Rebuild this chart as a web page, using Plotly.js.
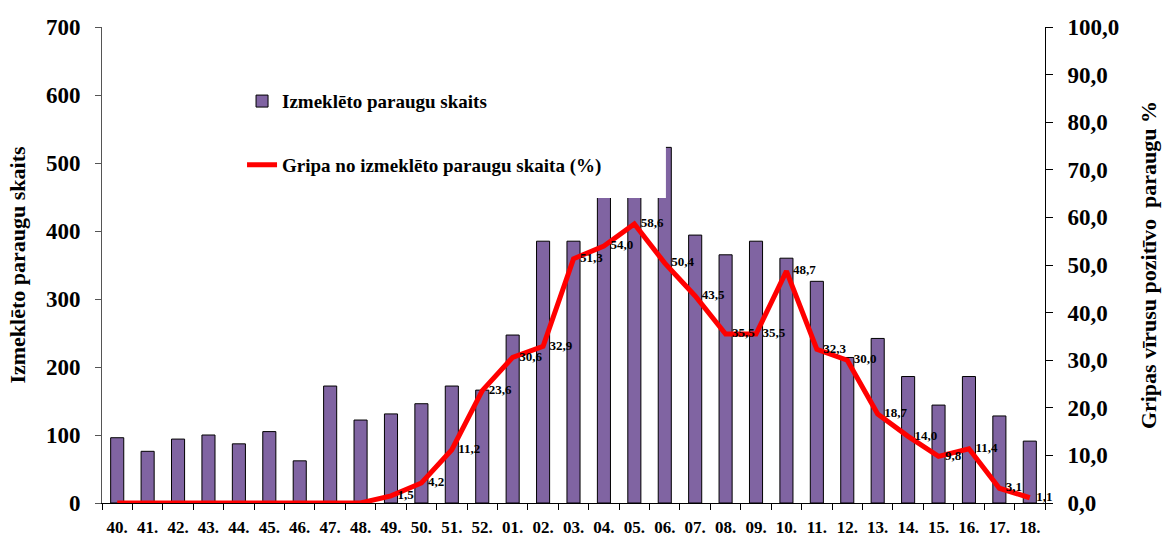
<!DOCTYPE html>
<html>
<head>
<meta charset="utf-8">
<script src="https://cdn.plot.ly/plotly-3.0.1.min.js"></script>
<style>html,body{margin:0;padding:0;background:#fff;}#chart{width:1164px;height:538px;}</style>
</head>
<body>
<div id="chart"></div>
<script>
const weeks = ['40.','41.','42.','43.','44.','45.','46.','47.','48.','49.','50.','51.','52.','01.','02.','03.','04.','05.','06.','07.','08.','09.','10.','11.','12.','13.','14.','15.','16.','17.','18.'];
const samples = [96,76,94,100,87,105,62,172,122,131,146,172,166,247,385,385,500,510,523,394,365,385,360,326,214,242,186,144,186,128,91];
const positivePct = [0,0,0,0,0,0,0,0,0,1.5,4.2,11.2,23.6,30.6,32.9,51.3,54.0,58.6,50.4,43.5,35.5,35.5,48.7,32.3,30.0,18.7,14.0,9.8,11.4,3.1,1.1];
const leftTicks = [0,100,200,300,400,500,600,700];
const rightTicks = [0,10,20,30,40,50,60,70,80,90,100];

const serif = 'Liberation Serif, Times New Roman, serif';
const pctLabels = positivePct.map(v => v > 0 ? '\u00a0\u00a0' + v.toFixed(1).replace('.', ',') : '');

const traces = [
  {
    type: 'bar', x: weeks, y: samples, name: 'Izmeklēto paraugu skaits',
    marker: {color: '#8064A2', line: {color: '#000', width: 1}},
    hoverinfo: 'skip', legendgroup: 'a'
  },
  {
    type: 'scatter', mode: 'lines+text', x: weeks, y: positivePct, yaxis: 'y2',
    name: 'Gripa no izmeklēto paraugu skaita (%)',
    line: {color: '#FF0000', width: 5},
    text: pctLabels, textposition: 'middle right',
    textfont: {family: serif, size: 13, color: '#000', weight: 'bold'},
    cliponaxis: false, hoverinfo: 'skip', legendgroup: 'b'
  }
];

const layout = {
  width: 1164, height: 538,
  margin: {l: 102, r: 119, t: 27, b: 35},
  paper_bgcolor: '#fff', plot_bgcolor: '#fff',
  separators: ', ',
  font: {family: serif, color: '#000'},
  bargap: 0.57,
  showlegend: true,
  legend: {
    x: 0.1485, y: 0.884, xanchor: 'left', yanchor: 'top',
    bgcolor: 'rgba(0,0,0,0)', traceorder: 'grouped', tracegroupgap: 36,
    font: {family: serif, size: 19, color: '#000', weight: 'bold'}
  },
  xaxis: {
    type: 'category', range: [-0.5, 30.5], showline: true, linecolor: '#000', linewidth: 1,
    ticks: 'outside', tickson: 'boundaries', ticklen: 6, tickcolor: '#000',
    showgrid: false, zeroline: false, tickangle: 0, ticklabelstandoff: 9,
    tickfont: {family: serif, size: 17, color: '#000', weight: 'bold'}
  },
  yaxis: {
    range: [0, 700], tickvals: leftTicks, ticks: 'outside', ticklen: 6, tickcolor: '#555',
    showline: true, linecolor: '#555', linewidth: 1, showgrid: false, zeroline: false,
    ticklabelstandoff: 10,
    tickfont: {family: serif, size: 23, color: '#000', weight: 'bold'},
    title: {text: 'Izmeklēto paraugu skaits', standoff: 14,
            font: {family: serif, size: 22, color: '#000', weight: 'bold'}}
  },
  yaxis2: {
    overlaying: 'y', side: 'right', range: [0, 100], tickvals: rightTicks,
    tickformat: '.1f', ticks: 'outside', ticklen: 7, tickcolor: '#000',
    showline: true, linecolor: '#000', linewidth: 1, showgrid: false, zeroline: false,
    ticklabelstandoff: 10,
    tickfont: {family: serif, size: 23, color: '#000', weight: 'bold'},
    title: {text: 'Gripas vīrusu pozitīvo  paraugu %', standoff: 22,
            font: {family: serif, size: 22, color: '#000', weight: 'bold'}}
  },
  yaxis3: {
    overlaying: 'y', side: 'right', range: [0, 100], tickvals: rightTicks,
    ticks: 'inside', ticklen: 7, tickcolor: '#000', showticklabels: false,
    showline: false, showgrid: false, zeroline: false
  },
  shapes: [
    {type: 'rect', xref: 'paper', yref: 'paper', x0: 0.14, x1: 0.598, y0: 0.641, y1: 0.93,
     fillcolor: '#fff', line: {width: 0}, layer: 'above'}
  ]
};

Plotly.newPlot('chart', traces, layout, {displayModeBar: false, staticPlot: true});
</script>
</body>
</html>
